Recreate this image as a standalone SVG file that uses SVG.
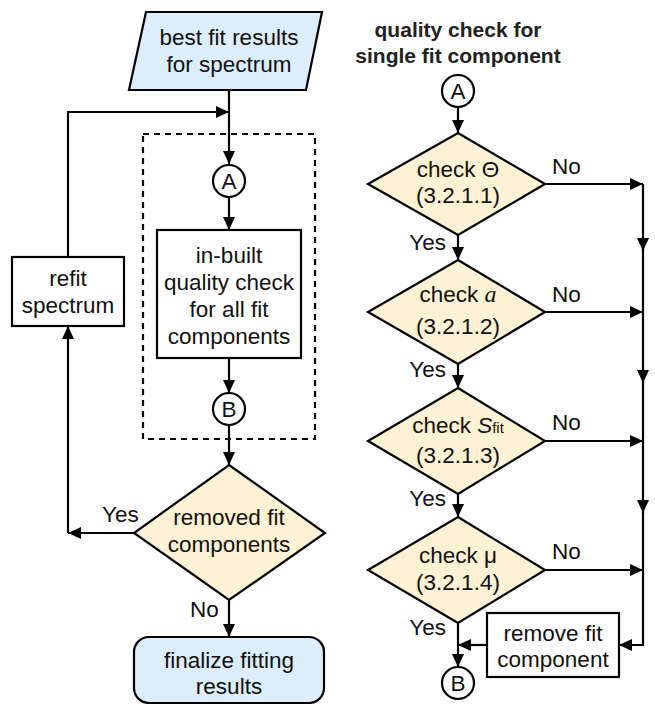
<svg xmlns="http://www.w3.org/2000/svg" width="655" height="704" viewBox="0 0 655 704">
<style>
  .shape{stroke:#000;stroke-width:2.2;}
  .blue{fill:#dcedfc;}
  .cream{fill:#fdf2d4;}
  .white{fill:#fff;}
  .t{font-family:"Liberation Sans",Arial,sans-serif;font-size:22.5px;fill:#111;text-anchor:middle;}
  .lbl{font-family:"Liberation Sans",Arial,sans-serif;font-size:22.5px;fill:#111;}
  .title{font-family:"Liberation Sans",Arial,sans-serif;font-size:21px;font-weight:bold;fill:#222;text-anchor:middle;}
  .var{font-family:"Liberation Serif","Times New Roman",serif;font-style:italic;font-size:24px;}
  .conn path{fill:none;stroke:#000;stroke-width:2.2;}
</style>
<defs>
  <marker id="arr" markerUnits="userSpaceOnUse" markerWidth="13" markerHeight="12" refX="13" refY="6" orient="auto">
    <path d="M0,0 L13,6 L0,12 z" fill="#000"/>
  </marker>
</defs>

<g id="title">
  <text class="title" x="458" y="37">quality check for</text>
  <text class="title" x="458" y="63">single fit component</text>
</g>

<g id="dashed-group">
  <rect x="143" y="134" width="172" height="305" fill="none" stroke="#000" stroke-width="2.2" stroke-dasharray="6,5"/>
</g>

<g id="input">
  <polygon class="shape blue" points="146,12 322,12 306,90 129,90"/>
  <text class="t" x="229" y="45">best fit results</text>
  <text class="t" x="229" y="72">for spectrum</text>
</g>

<g id="connA-left">
  <circle class="shape white" cx="229" cy="181" r="16"/>
  <text class="t" x="229" y="189">A</text>
</g>

<g id="inbuilt">
  <rect class="shape white" x="157" y="230" width="144" height="128"/>
  <text class="t" x="229" y="263">in-built</text>
  <text class="t" x="229" y="290">quality check</text>
  <text class="t" x="229" y="317">for all fit</text>
  <text class="t" x="229" y="344">components</text>
</g>

<g id="connB-left">
  <circle class="shape white" cx="229" cy="409" r="16"/>
  <text class="t" x="229" y="417">B</text>
</g>

<g id="refit">
  <rect class="shape white" x="12" y="257" width="112" height="69"/>
  <text class="t" x="68" y="286">refit</text>
  <text class="t" x="68" y="313">spectrum</text>
</g>

<g id="removed">
  <polygon class="shape cream" points="229,465 325,533 229,600 134,533"/>
  <text class="t" x="229" y="525">removed fit</text>
  <text class="t" x="229" y="552">components</text>
</g>

<g id="finalize">
  <rect class="shape blue" x="134" y="637" width="190" height="66" rx="15"/>
  <text class="t" x="229" y="668">finalize fitting</text>
  <text class="t" x="229" y="694">results</text>
</g>

<g id="connA-right">
  <circle class="shape white" cx="458" cy="91" r="16"/>
  <text class="t" x="458" y="99">A</text>
</g>

<g id="check-theta">
  <polygon class="shape cream" points="458,133 545,184 458,235 368,184"/>
  <text class="t" x="458" y="177">check Θ</text>
  <text class="t" x="458" y="203">(3.2.1.1)</text>
</g>

<g id="check-a">
  <polygon class="shape cream" points="458,260 545,312 458,364 368,312"/>
  <text class="t" x="458" y="302">check <tspan class="var">a</tspan></text>
  <text class="t" x="458" y="334">(3.2.1.2)</text>
</g>

<g id="check-s">
  <polygon class="shape cream" points="458,388 545,441 458,494 368,441"/>
  <text class="t" x="458" y="433">check <tspan font-style="italic">S</tspan><tspan font-size="15">fit</tspan></text>
  <text class="t" x="458" y="463">(3.2.1.3)</text>
</g>

<g id="check-mu">
  <polygon class="shape cream" points="458,517 545,570 458,623 368,570"/>
  <text class="t" x="458" y="563">check μ</text>
  <text class="t" x="458" y="590">(3.2.1.4)</text>
</g>

<g id="remove-fit">
  <rect class="shape white" x="487" y="613" width="132" height="64"/>
  <text class="t" x="553" y="641">remove fit</text>
  <text class="t" x="553" y="667">component</text>
</g>

<g id="connB-right">
  <circle class="shape white" cx="458" cy="683" r="16"/>
  <text class="t" x="458" y="691">B</text>
</g>

<g class="conn" id="connectors">
  <path d="M229,90 V164" marker-end="url(#arr)"/>
  <path d="M68,257 V112 H229" marker-end="url(#arr)"/>
  <path d="M229,197 V230" marker-end="url(#arr)"/>
  <path d="M229,358 V393" marker-end="url(#arr)"/>
  <path d="M229,425 V465" marker-end="url(#arr)"/>
  <path d="M134,533 H68" marker-end="url(#arr)"/>
  <path d="M68,533 V326" marker-end="url(#arr)"/>
  <path d="M229,600 V637" marker-end="url(#arr)"/>

  <path d="M458,107 V133" marker-end="url(#arr)"/>
  <path d="M458,235 V260" marker-end="url(#arr)"/>
  <path d="M458,364 V388" marker-end="url(#arr)"/>
  <path d="M458,494 V517" marker-end="url(#arr)"/>
  <path d="M458,623 V667" marker-end="url(#arr)"/>

  <path d="M545,184 H643" marker-end="url(#arr)"/>
  <path d="M545,312 H643" marker-end="url(#arr)"/>
  <path d="M545,441 H643" marker-end="url(#arr)"/>
  <path d="M545,570 H643" marker-end="url(#arr)"/>

  <path d="M643,184 V251" marker-end="url(#arr)"/>
  <path d="M643,249 V383" marker-end="url(#arr)"/>
  <path d="M643,381 V513" marker-end="url(#arr)"/>
  <path d="M643,511 V645 H619" marker-end="url(#arr)"/>
  <path d="M487,645 H458" marker-end="url(#arr)"/>
</g>

<g id="labels">
  <text class="lbl" x="102" y="522">Yes</text>
  <text class="lbl" x="190" y="617">No</text>
  <text class="lbl" x="552" y="174">No</text>
  <text class="lbl" x="552" y="302">No</text>
  <text class="lbl" x="552" y="430">No</text>
  <text class="lbl" x="552" y="559">No</text>
  <text class="lbl" x="446" y="250" text-anchor="end">Yes</text>
  <text class="lbl" x="446" y="377" text-anchor="end">Yes</text>
  <text class="lbl" x="446" y="506" text-anchor="end">Yes</text>
  <text class="lbl" x="446" y="635" text-anchor="end">Yes</text>
</g>
</svg>
